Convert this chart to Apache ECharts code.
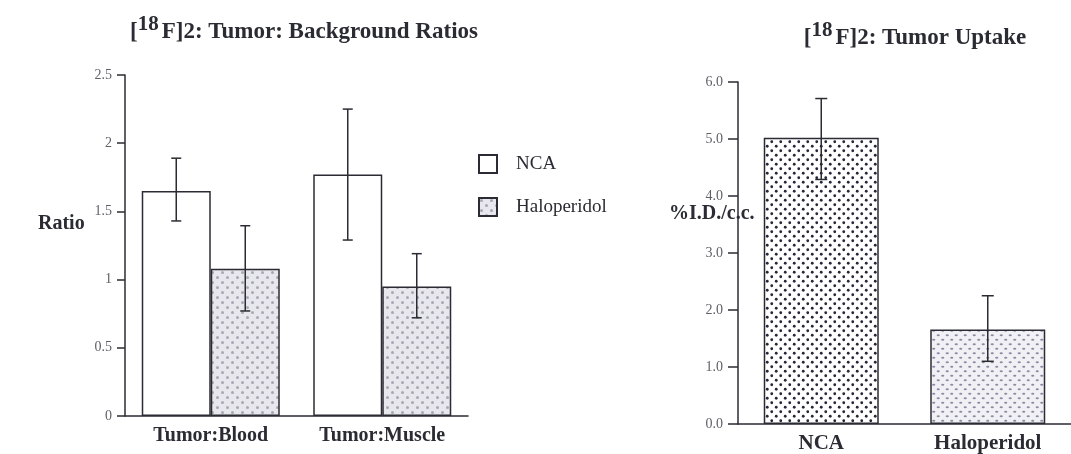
<!DOCTYPE html>
<html>
<head>
<meta charset="utf-8">
<script src="https://cdn.jsdelivr.net/npm/echarts@6/dist/echarts.min.js"></script>
<style>
  html, body { margin: 0; padding: 0; background: #ffffff; }
  #chart { width: 1071px; height: 454px; }
</style>
</head>
<body>
<div id="chart"></div>
<script>
// Tumor:background ratios (left panel)
const ratioGroups = ['Tumor:Blood', 'Tumor:Muscle'];
const ncaRatio = [1.65, 1.77];
const ncaRatioHi = [1.89, 2.25];
const ncaRatioLo = [1.43, 1.29];
const halRatio = [1.08, 0.95];
const halRatioHi = [1.395, 1.19];
const halRatioLo = [0.77, 0.72];
const ratioAxis = { min: 0, max: 2.5, step: 0.5 };

// Tumor uptake, %I.D./c.c. (right panel)
const uptakeGroups = ['NCA', 'Haloperidol'];
const uptake = [5.02, 1.66];
const uptakeHi = [5.71, 2.25];
const uptakeLo = [4.29, 1.10];
const uptakeAxis = { min: 0, max: 6, step: 1 };

const SERIF = '"Liberation Serif", "DejaVu Serif", serif';
const INK = '#2b2b33';

// staggered dot fill used for the hatched bars
function dotPattern(tile, bg, dot, r, dx) {
  const c = document.createElement('canvas');
  c.width = tile; c.height = tile;
  const g = c.getContext('2d');
  g.fillStyle = bg; g.fillRect(0, 0, tile, tile);
  g.fillStyle = dot;
  const pts = [[tile * 0.25, tile * 0.25], [tile * 0.75, tile * 0.75]];
  pts.forEach(([x, y]) => {
    g.beginPath();
    g.ellipse(x, y, r + (dx || 0), r, 0, 0, Math.PI * 2);
    g.fill();
  });
  return { image: c, repeat: 'repeat' };
}

const halLeftFill = dotPattern(10, '#e7e7ed', '#a8a8b4', 1.5, 0);
const ncaRightFill = dotPattern(9, '#ffffff', '#262638', 1.4, 0);
const halRightFill = dotPattern(9, '#f1f1f5', '#8a8aa2', 1.1, 0.5);

// error bar with caps; offset shifts to the grouped bar's centre
function errorBars(lo, hi, offset, cap) {
  return function (params, api) {
    const i = api.value(0);
    const top = api.coord([i, hi[i]]);
    const bot = api.coord([i, lo[i]]);
    const x = top[0] + offset;
    const style = { stroke: INK, lineWidth: 1.5 };
    return {
      type: 'group',
      children: [
        { type: 'line', shape: { x1: x, y1: top[1], x2: x, y2: bot[1] }, style },
        { type: 'line', shape: { x1: x - cap, y1: top[1], x2: x + cap, y2: top[1] }, style },
        { type: 'line', shape: { x1: x - cap, y1: bot[1], x2: x + cap, y2: bot[1] }, style }
      ]
    };
  };
}

const LEFT_BAR = 69;
const axisLineStyle = { color: INK, width: 1.5 };
const titleRich = {
  b: { fontFamily: SERIF, fontWeight: 'bold', fontSize: 23, color: INK, verticalAlign: 'bottom', lineHeight: 30 },
  s: { fontFamily: SERIF, fontWeight: 'bold', fontSize: 21, color: INK, verticalAlign: 'top', lineHeight: 30, padding: [0, 3, 0, 0] }
};

const option = {
  animation: false,
  backgroundColor: '#ffffff',
  title: [
    {
      text: '{b|[}{s|18}{b|F]2: Tumor: Background Ratios}',
      left: 299, top: 9, textAlign: 'center',
      textStyle: { rich: titleRich }
    },
    {
      text: '{b|[}{s|18}{b|F]2: Tumor Uptake}',
      left: 910, top: 15, textAlign: 'center',
      textStyle: { rich: titleRich }
    }
  ],
  legend: {
    data: ['NCA', 'Haloperidol'],
    orient: 'vertical',
    left: 473, top: 149,
    itemWidth: 18, itemHeight: 18, itemGap: 23,
    icon: 'rect',
    textStyle: { fontFamily: SERIF, fontSize: 19, color: INK, padding: [0, 0, 0, 14] }
  },
  grid: [
    { left: 125, top: 75, width: 343, height: 341 },
    { left: 738, top: 82, width: 340, height: 342 }
  ],
  xAxis: [
    {
      type: 'category', gridIndex: 0, data: ratioGroups,
      axisLine: { lineStyle: axisLineStyle },
      axisTick: { alignWithLabel: true, length: 6, lineStyle: axisLineStyle },
      axisLabel: { fontFamily: SERIF, fontWeight: 'bold', fontSize: 20, color: INK, margin: 10 }
    },
    {
      type: 'category', gridIndex: 1, data: uptakeGroups,
      axisLine: { lineStyle: axisLineStyle },
      axisTick: { alignWithLabel: true, length: 6, lineStyle: axisLineStyle },
      axisLabel: { fontFamily: SERIF, fontWeight: 'bold', fontSize: 21, color: INK, margin: 9 }
    }
  ],
  yAxis: [
    {
      type: 'value', gridIndex: 0,
      min: ratioAxis.min, max: ratioAxis.max, interval: ratioAxis.step,
      splitLine: { show: false },
      axisLine: { show: true, lineStyle: axisLineStyle },
      axisTick: { show: true, length: 8, lineStyle: axisLineStyle },
      axisLabel: { fontFamily: SERIF, fontSize: 14, color: '#606068', margin: 13 }
    },
    {
      type: 'value', gridIndex: 1,
      min: uptakeAxis.min, max: uptakeAxis.max, interval: uptakeAxis.step,
      splitLine: { show: false },
      axisLine: { show: true, lineStyle: axisLineStyle },
      axisTick: { show: true, length: 10, lineStyle: axisLineStyle },
      axisLabel: { fontFamily: SERIF, fontSize: 14, color: '#606068', margin: 15,
        formatter: v => v.toFixed(1) }
    }
  ],
  graphic: [
    { type: 'text', left: 38, top: 214, z: 10,
      style: { text: 'Ratio', font: 'bold 20px ' + SERIF, fill: INK } },
    { type: 'text', left: 669, top: 204, z: 10,
      style: { text: '%I.D./c.c.', font: 'bold 20px ' + SERIF, fill: INK } }
  ],
  series: [
    {
      name: 'NCA', type: 'bar', xAxisIndex: 0, yAxisIndex: 0,
      data: ncaRatio, barWidth: LEFT_BAR, barGap: '0%',
      itemStyle: { color: '#ffffff', borderColor: INK, borderWidth: 1.5 }
    },
    {
      name: 'Haloperidol', type: 'bar', xAxisIndex: 0, yAxisIndex: 0,
      data: halRatio, barWidth: LEFT_BAR, barGap: '0%',
      itemStyle: { color: halLeftFill, borderColor: INK, borderWidth: 1.5 }
    },
    {
      name: 'ncaErr', type: 'custom', xAxisIndex: 0, yAxisIndex: 0, z: 5,
      data: ratioGroups.map((_, i) => [i]),
      renderItem: errorBars(ncaRatioLo, ncaRatioHi, -LEFT_BAR / 2, 5)
    },
    {
      name: 'halErr', type: 'custom', xAxisIndex: 0, yAxisIndex: 0, z: 5,
      data: ratioGroups.map((_, i) => [i]),
      renderItem: errorBars(halRatioLo, halRatioHi, LEFT_BAR / 2, 5)
    },
    {
      name: 'Uptake', type: 'bar', xAxisIndex: 1, yAxisIndex: 1,
      barWidth: 115,
      data: uptake.map((v, i) => ({
        value: v,
        itemStyle: { color: i === 0 ? ncaRightFill : halRightFill, borderColor: INK, borderWidth: 1.5 }
      }))
    },
    {
      name: 'uptakeErr', type: 'custom', xAxisIndex: 1, yAxisIndex: 1, z: 5,
      data: uptakeGroups.map((_, i) => [i]),
      renderItem: errorBars(uptakeLo, uptakeHi, 0, 6)
    }
  ]
};

const chart = echarts.init(document.getElementById('chart'), null, { renderer: 'canvas' });
chart.setOption(option);
</script>
</body>
</html>
